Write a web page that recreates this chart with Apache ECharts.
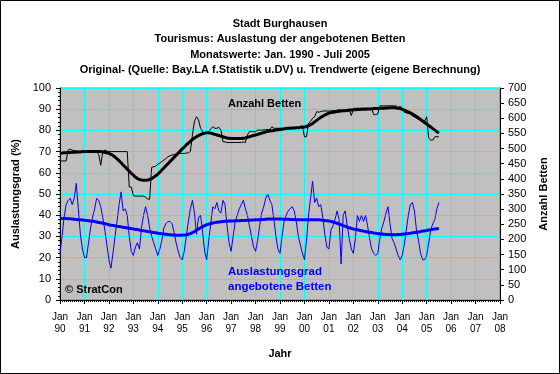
<!DOCTYPE html>
<html>
<head>
<meta charset="utf-8">
<script src="https://cdn.jsdelivr.net/npm/echarts@6/dist/echarts.min.js"></script>
<style>
html,body{margin:0;padding:0;background:#fff;}
#c{width:560px;height:374px;}
</style>
</head>
<body>
<div id="c"></div>
<script>
// Tick labels for the x axis (one per January, 1990 .. 2008)
const xTickLabels = ['Jan\n90','Jan\n91','Jan\n92','Jan\n93','Jan\n94','Jan\n95','Jan\n96','Jan\n97','Jan\n98','Jan\n99','Jan\n00','Jan\n01','Jan\n02','Jan\n03','Jan\n04','Jan\n05','Jan\n06','Jan\n07','Jan\n08'];

// Monthly values Jan 1990 .. Jul 2005
// Auslastungsgrad (%) - original
const auslastung = [
 22,30,39,45,47,48,45,48,55,43,31,24,
 20,20,27,34,39,43,48,47,44,39,33,26,
 19,15,22,30,37,45,51,42,43,40,30,23,
 21,25,27,24,34,40,44,40,34,30,27,24,
 21,24,28,34,36,37,37,36,32,27,23,20,
 19,23,30,37,43,47,41,31,39,40,32,23,
 19,28,36,44,43,46,42,41,47,45,35,27,
 23,30,37,40,43,45,47,43,40,35,30,25,
 23,28,35,41,44,48,50,47,45,38,30,24,
 22,30,37,40,42,43,44,42,37,30,26,22,
 19,28,40,48,56,46,48,44,45,39,31,25,
 24,33,35,38,42,38,17,40,42,35,29,24,
 22,29,40,37,40,37,40,35,29,24,22,21,
 22,29,34,37,41,44,36,29,27,24,21,19,
 21,26,33,40,45,46,42,33,28,22,19,19,
 21,27,33,36,38,43,46
];
// Auslastungsgrad (%) - trend
const auslastungTrend = [
 38.5,38.5,38.4,38.4,38.3,38.3,38.2,38.1,38.0,37.9,37.8,37.7,
 37.6,37.5,37.4,37.3,37.2,37.0,36.8,36.6,36.4,36.2,36.0,35.8,
 35.5,35.3,35.2,35.0,34.8,34.7,34.5,34.3,34.2,34.0,33.8,33.7,
 33.5,33.3,33.2,33.0,32.8,32.7,32.5,32.3,32.2,32.0,31.8,31.7,
 31.5,31.4,31.2,31.1,31.0,30.9,30.8,30.7,30.7,30.6,30.6,30.6,
 30.6,30.7,30.8,31.0,31.3,31.8,32.3,32.9,33.5,34.1,34.6,35.1,
 35.5,35.8,36.1,36.3,36.5,36.7,36.8,36.9,37.0,37.1,37.2,37.3,
 37.3,37.3,37.4,37.4,37.4,37.5,37.5,37.5,37.6,37.6,37.7,37.7,
 37.8,37.8,37.9,38.0,38.0,38.1,38.2,38.2,38.2,38.2,38.2,38.2,
 38.2,38.2,38.1,38.1,38.1,38.0,38.0,38.0,37.9,37.9,37.8,37.8,
 37.8,37.8,37.8,37.8,37.8,37.8,37.8,37.8,37.7,37.6,37.5,37.4,
 37.3,37.1,36.8,36.5,36.2,35.8,35.5,35.1,34.8,34.4,34.1,33.8,
 33.5,33.3,33.1,32.9,32.7,32.5,32.3,32.1,32.0,31.8,31.6,31.5,
 31.3,31.2,31.1,31.0,30.9,30.9,30.8,30.8,30.8,30.8,30.9,30.9,
 31.0,31.1,31.2,31.4,31.5,31.7,31.8,32.0,32.1,32.3,32.5,32.6,
 32.8,33.0,33.1,33.3,33.5,33.6,33.8
];
// Anzahl Betten - original
const betten = [
 459,459,459,459,495,498,495,493,492,491,490,490,
 490,492,492,491,490,490,490,480,445,490,495,492,
 490,490,490,490,490,490,490,490,490,490,373,373,
 345,343,343,343,343,343,340,333,333,438,440,442,
 448,452,457,462,467,473,476,479,480,482,484,484,
 484,484,485,486,490,545,590,605,595,567,556,550,
 550,556,565,572,567,567,570,561,523,522,520,520,
 520,520,520,520,520,520,522,520,545,556,556,556,
 556,561,561,561,562,562,563,563,572,567,567,567,
 567,567,567,567,567,567,567,568,568,568,570,576,
 539,539,583,590,600,605,622,620,622,624,624,624,
 624,624,625,625,627,629,627,627,627,627,627,609,
 630,633,633,633,633,633,633,633,633,633,612,612,
 614,641,641,641,641,641,641,641,641,641,635,640,
 630,620,618,616,614,608,604,600,597,594,591,591,
 605,534,528,528,539,539,539
];
// Anzahl Betten - trend
const bettenTrend = [
 484,485,486,486,487,487,488,488,489,489,489,490,
 490,490,490,490,490,490,490,490,490,489,488,486,
 484,481,477,472,466,460,453,446,439,432,425,418,
 412,406,401,398,396,395,395,396,398,401,405,410,
 416,422,429,436,443,450,457,464,471,478,485,492,
 499,505,512,518,524,530,535,539,543,546,549,551,
 552,552,551,549,547,545,543,541,539,537,535,534,
 533,533,533,533,533,533,534,535,537,539,541,543,
 545,547,549,551,553,555,557,558,559,560,561,562,
 563,564,565,566,567,567,568,568,569,569,570,570,
 571,573,576,579,583,588,593,598,603,607,611,614,
 617,619,620,621,622,623,624,625,625,626,627,627,
 628,628,629,629,630,630,630,631,631,631,632,632,
 632,633,633,633,634,634,635,635,635,634,633,632,
 630,627,624,621,618,614,610,606,601,596,591,586,
 581,576,571,566,561,556,551
];

const titleLines = ['Stadt Burghausen','Tourismus: Auslastung der angebotenen Betten','Monatswerte: Jan. 1990 - Juli 2005','Original- (Quelle: Bay.LA f.Statistik u.DV) u. Trendwerte (eigene Berechnung)'];

const FONT = "'Liberation Sans', Arial, sans-serif";
const toPairs = arr => arr.map((v, i) => [i, v]);

const chart = echarts.init(document.getElementById('c'), null, {renderer: 'canvas'});
chart.setOption({
  animation: false,
  backgroundColor: '#ffffff',
  textStyle: {fontFamily: FONT},
  title: {
    text: titleLines.join('\n'),
    left: 280, top: 16, textAlign: 'center', padding: 0,
    textStyle: {fontFamily: FONT, fontSize: 11, fontWeight: 'bold', color: '#000', lineHeight: 15.5}
  },
  grid: {left: 60, right: 60, top: 88, bottom: 74, show: true, backgroundColor: '#C0C0C0', borderColor: '#808080', borderWidth: 1},
  xAxis: {
    type: 'value', min: 0, max: 216, interval: 12,
    name: 'Jahr', nameLocation: 'middle', nameGap: 48,
    nameTextStyle: {fontFamily: FONT, fontSize: 11, fontWeight: 'bold', color: '#000'},
    axisLine: {show: true, lineStyle: {color: '#000', width: 1}},
    axisTick: {show: true, length: 4, inside: false, lineStyle: {color: '#000'}},
    minorTick: {show: true, splitNumber: 12, length: 2, lineStyle: {color: '#000'}},
    axisLabel: {
      formatter: v => xTickLabels[Math.round(v / 12)] || '',
      fontFamily: FONT, fontSize: 10, color: '#000', lineHeight: 12, margin: 11
    },
    splitLine: {show: true, lineStyle: {color: '#00FFFF', width: 1}}
  },
  yAxis: [
    {
      type: 'value', min: 0, max: 100, interval: 10, position: 'left',
      name: 'Auslastungsgrad (%)', nameLocation: 'middle', nameGap: 38, nameRotate: 90,
      nameTextStyle: {fontFamily: FONT, fontSize: 11, fontWeight: 'bold', color: '#000'},
      axisLine: {show: true, lineStyle: {color: '#000', width: 1}},
      axisTick: {show: true, length: 4, lineStyle: {color: '#000'}},
      minorTick: {show: true, splitNumber: 5, length: 2, lineStyle: {color: '#000'}},
      axisLabel: {fontFamily: FONT, fontSize: 11, color: '#000', margin: 9},
      splitLine: {show: true, lineStyle: {color: '#00FFFF', width: 1}}
    },
    {
      type: 'value', min: 0, max: 700, interval: 50, position: 'right',
      name: 'Anzahl Betten', nameLocation: 'middle', nameGap: 38, nameRotate: 90,
      nameTextStyle: {fontFamily: FONT, fontSize: 11, fontWeight: 'bold', color: '#000'},
      axisLine: {show: true, lineStyle: {color: '#000', width: 1}},
      axisTick: {show: true, length: 4, lineStyle: {color: '#000'}},
      axisLabel: {fontFamily: FONT, fontSize: 11, color: '#000', margin: 8},
      splitLine: {show: false}
    }
  ],
  series: [
    {type: 'line', name: 'Auslastung', yAxisIndex: 0, data: toPairs(auslastung), symbol: 'none', lineStyle: {color: '#0000FF', width: 1}, z: 3},
    {type: 'line', name: 'Auslastung Trend', yAxisIndex: 0, data: toPairs(auslastungTrend), symbol: 'none', lineStyle: {color: '#0000FF', width: 3}, z: 4},
    {type: 'line', name: 'Betten', yAxisIndex: 1, data: toPairs(betten), symbol: 'none', lineStyle: {color: '#000000', width: 1}, z: 3},
    {type: 'line', name: 'Betten Trend', yAxisIndex: 1, data: toPairs(bettenTrend), symbol: 'none', lineStyle: {color: '#000000', width: 3}, z: 4}
  ],
  graphic: [
    {type: 'rect', shape: {x: 0.5, y: 0.5, width: 559, height: 373}, style: {fill: 'none', stroke: '#000', lineWidth: 1}, z: 100},
    {type: 'text', left: 228, top: 98, style: {text: 'Anzahl Betten', font: "bold 11px 'Liberation Sans', Arial", fill: '#000'}, z: 50},
    {type: 'text', left: 228, top: 265, style: {text: 'Auslastungsgrad\nangebotene Betten', font: "bold 11.5px 'Liberation Sans', Arial", fill: '#0000FF', lineHeight: 14.5}, z: 50},
    {type: 'text', left: 65, top: 284, style: {text: '© StratCon', font: "bold 11px 'Liberation Sans', Arial", fill: '#000'}, z: 50}
  ]
});
</script>
</body>
</html>
